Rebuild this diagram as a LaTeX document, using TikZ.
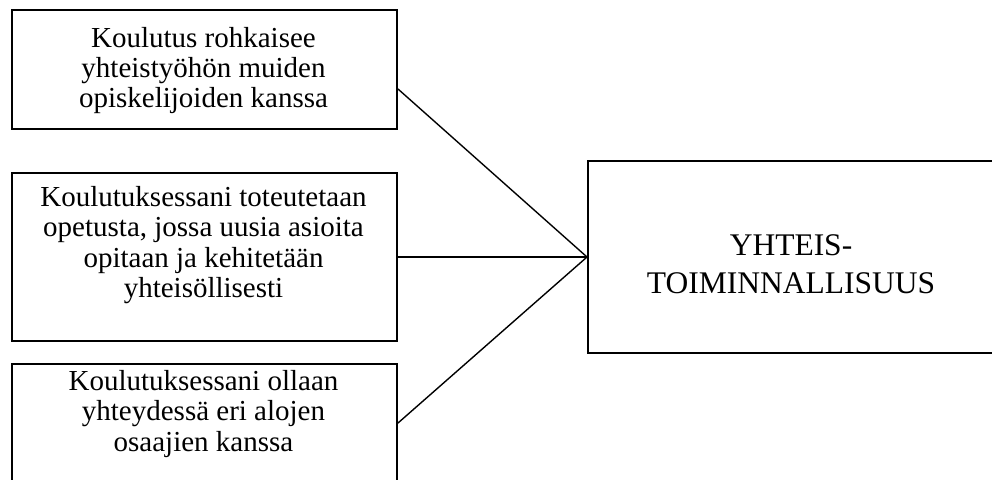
\documentclass[tikz,border=0pt]{standalone}
\usepackage{fontspec}
\setmainfont{Liberation Serif}
\begin{document}
\begin{tikzpicture}[x=1pt,y=-1pt,
  box/.style={draw, line width=2pt, rectangle, inner sep=0pt},
  boxtext/.style={align=center, inner sep=0pt, anchor=north,
    font=\fontsize{29}{30.3}\selectfont},
  bigtext/.style={align=center, inner sep=0pt, anchor=north,
    font=\fontsize{31.5}{38}\selectfont},
  link/.style={line width=1.4pt}]
\useasboundingbox (0,0) rectangle (992,479);
\clip (0,0) rectangle (992,479);

% three factor boxes on the left
\node[box, anchor=north west, minimum width=385pt, minimum height=119pt] (b1) at (11,9) {};
\node[box, anchor=north west, minimum width=385pt, minimum height=168pt] (b2) at (11,172) {};
\node[box, anchor=north west, minimum width=385pt, minimum height=140pt] (b3) at (11,363) {};

\node[boxtext] (t1) at (203.5,26.9) {Koulutus rohkaisee\\yhteistyöhön muiden\\opiskelijoiden kanssa};
\node[boxtext] (t2) at (203.5,186.2) {Koulutuksessani toteutetaan\\opetusta, jossa uusia asioita\\opitaan ja kehitetään\\yhteisöllisesti};
\node[boxtext] (t3) at (203.5,370.2) {Koulutuksessani ollaan\\yhteydessä eri alojen\\osaajien kanssa};

% the combined concept on the right
\node[box, anchor=north west, minimum width=408pt, minimum height=192pt] (r) at (587,160) {};
\node[bigtext] (tr) at (791,234.1) {YHTEIS-\\TOIMINNALLISUUS};

% connector end points on the box edges
\coordinate (p1) at ([yshift=-19.5pt]b1.east);
\coordinate (p3) at ([yshift=-60pt]b3.north east);

\draw[link] (p1) -- (r.west);
\draw[link] (b2.east) -- (r.west);
\draw[link] (p3) -- (r.west);
\end{tikzpicture}
\end{document}
